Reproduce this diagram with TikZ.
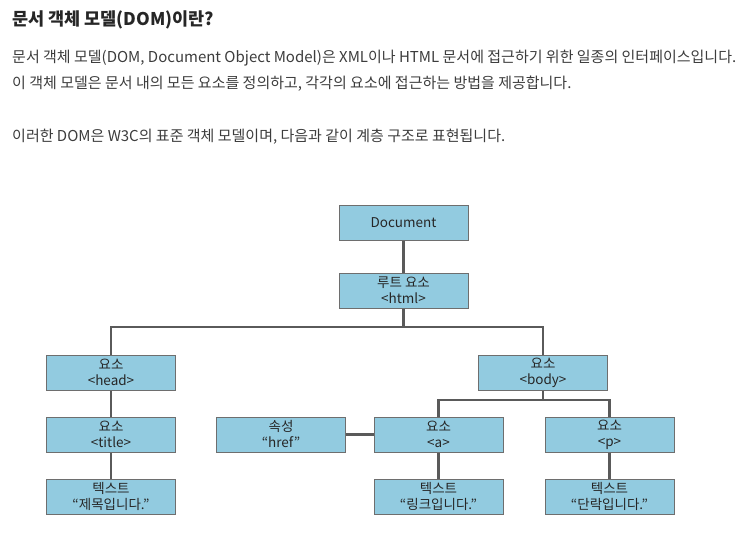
\documentclass[tikz,border=0pt]{standalone}
\usepackage{fontspec}
\setmainfont{Noto Sans CJK KR}
\usepackage{tikz}

\definecolor{boxfill}{RGB}{146,203,224}
\definecolor{boxline}{RGB}{110,110,110}
\definecolor{linkline}{RGB}{90,90,90}
\definecolor{bodytext}{RGB}{60,60,60}

\begin{document}
\begin{tikzpicture}
  [x=1pt, y=-1pt,
   domnode/.style={draw=boxline, line width=1pt, fill=boxfill, minimum width=129pt,
     minimum height=35pt, align=center, inner sep=0pt, text=black!85,
     font=\fontsize{13.5}{16}\selectfont},
   link/.style={draw=linkline, line width=2.6pt},
   para/.style={anchor=base west, inner sep=0pt, text=bodytext, font=\fontsize{15}{18}\selectfont}]
  \useasboundingbox (0,0) rectangle (748,557);
  % heading and text
  \node[anchor=base west, inner sep=0pt, text=black!85, font=\fontsize{17.5}{20}\selectfont\bfseries]
    (title) at (12,25) {문서 객체 모델(DOM)이란?};
  \node[para] (line1) at (12,62) {문서 객체 모델(DOM, Document Object Model)은 XML이나 HTML 문서에 접근하기 위한 일종의 인터페이스입니다.};
  \node[para] (line2) at (12,88) {이 객체 모델은 문서 내의 모든 요소를 정의하고, 각각의 요소에 접근하는 방법을 제공합니다.};
  \node[para] (line3) at (12,141) {이러한 DOM은 W3C의 표준 객체 모델이며, 다음과 같이 계층 구조로 표현됩니다.};
  % tree
  \node[domnode] (doc) at (403.5,222.5) {Document};
  \node[domnode] (html) at (403.5,290.5) {루트 요소\\<html>};
  \node[domnode] (head) at (111,372.5) {요소\\<head>};
  \node[domnode] (body) at (543,372.5) {요소\\<body>};
  \node[domnode] (title) at (111,434.5) {요소\\<title>};
  \node[domnode] (href) at (281,434.5) {속성\\“href”};
  \node[domnode] (a) at (438.5,434.5) {요소\\<a>};
  \node[domnode] (p) at (609.5,434.5) {요소\\<p>};
  \node[domnode] (txt1) at (111,496.5) {텍스트\\“제목입니다.”};
  \node[domnode] (txt2) at (438.5,496.5) {텍스트\\“링크입니다.”};
  \node[domnode] (txt3) at (609.5,496.5) {텍스트\\“단락입니다.”};
  \coordinate (bus1) at (403.5,327);
  \coordinate (bus2) at (543,400);
  \draw[link] (doc) -- (html);
  \draw[link] (html) -- (bus1);
  \draw[link] (head.north) |- (bus1) -| (body.north);
  \draw[link] (head) -- (title);
  \draw[link] (title) -- (txt1);
  \draw[link] (body) -- (bus2);
  \draw[link] (a.north) |- (bus2) -| (p.north);
  \draw[link] (href) -- (a);
  \draw[link] (a) -- (txt2);
  \draw[link] (p) -- (txt3);
\end{tikzpicture}
\end{document}
